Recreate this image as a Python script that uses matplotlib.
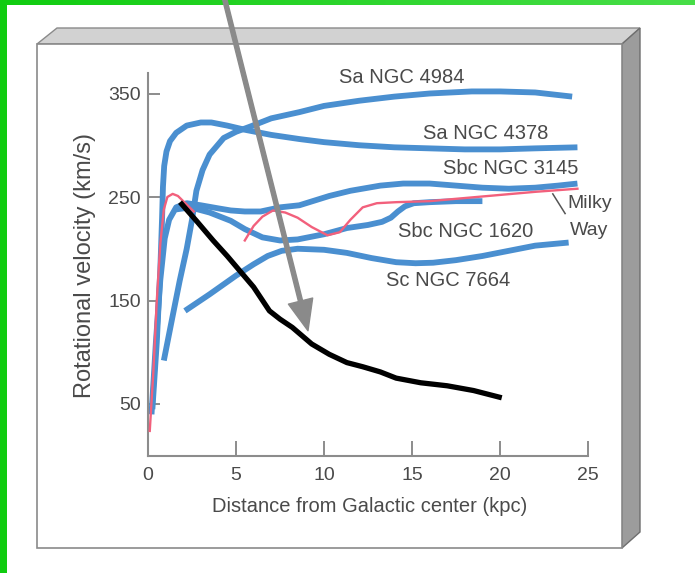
import matplotlib
matplotlib.use("Agg")
import matplotlib.pyplot as plt
from matplotlib.patches import Polygon, Rectangle
from matplotlib.colors import LinearSegmentedColormap
import numpy as np

# ---- data: rotation curves (distance in kpc, velocity in km/s) ----
ngc4984_x = [0.9, 1.4, 1.8, 2.2, 2.5, 2.75, 3.1, 3.5, 4.3, 5.0, 5.8, 7.0, 8.6, 10.0, 12.0, 14.0, 16.0, 18.4, 20.0, 22.0, 24.1]
ngc4984_y = [92, 135, 169, 200, 228, 256, 276, 291, 307, 313, 318, 326, 332, 338, 343, 347, 350, 352, 352, 351, 347]

ngc4378_x = [0.25, 0.5, 0.7, 0.8, 0.85, 0.92, 1.05, 1.25, 1.6, 2.2, 3.0, 3.6, 4.5, 5.5, 7.0, 8.6, 10.0, 12.0, 14.0, 16.0, 18.0, 20.0, 22.0, 24.4]
ngc4378_y = [45, 110, 180, 230, 260, 280, 294, 304, 312, 319, 322, 322, 319, 315, 310, 306, 303, 300, 298, 297, 296, 296, 297, 298]

ngc3145_x = [0.2, 0.45, 0.7, 0.95, 1.2, 1.6, 2.2, 3.0, 4.0, 4.7, 5.5, 6.4, 7.5, 8.6, 10.3, 11.5, 13.2, 14.5, 16.0, 17.5, 19.0, 20.5, 22.0, 23.3, 24.4]
ngc3145_y = [40, 110, 170, 210, 228, 240, 244, 242, 239, 237, 236, 236, 240, 242, 251, 256, 261, 263, 263, 261, 259, 258, 259, 261, 263]

ngc1620_x = [1.6, 2.4, 3.5, 4.7, 5.5, 6.5, 7.5, 8.5, 10.0, 11.3, 12.5, 13.3, 13.8, 14.2, 14.6, 15.1, 16.0, 17.5, 19.0]
ngc1620_y = [238, 240, 235, 227, 219, 211, 208, 209, 214, 220, 223, 226, 230, 236, 241, 244, 245, 246, 246]

ngc7664_x = [2.1, 3.5, 5.0, 6.0, 6.8, 7.6, 8.5, 10.0, 11.3, 12.7, 14.1, 15.2, 16.2, 17.5, 19.0, 20.5, 22.0, 23.9]
ngc7664_y = [140, 156, 174, 185, 193, 198, 200, 199, 196, 191, 187, 186, 186.5, 189, 193, 198, 203, 206]

milky_in_x = [0.1, 0.3, 0.5, 0.7, 0.9, 1.1, 1.4, 1.7, 2.0, 2.6]
milky_in_y = [24, 80, 150, 205, 238, 250, 253, 251, 246, 236]
milky_out_x = [5.5, 6.0, 6.5, 7.1, 7.8, 8.5, 9.3, 10.2, 10.9, 11.5, 12.2, 13.0, 14.1, 16.0, 18.0, 20.0, 22.0, 24.4]
milky_out_y = [208, 222, 231, 237, 235, 230, 221, 213, 216, 228, 240, 244, 245, 246, 249, 252, 255, 258]

kepler_x = [1.82, 2.8, 3.7, 4.5, 5.2, 6.0, 6.9, 7.5, 8.2, 9.3, 10.3, 11.3, 12.2, 13.2, 14.1, 15.5, 17.0, 18.5, 20.1]
kepler_y = [245, 226, 208, 193, 179, 163, 140, 132, 124, 108, 98, 90, 86, 81, 75, 70.5, 67.6, 63, 56]

x_ticks = [0, 5, 10, 15, 20, 25]
y_ticks = [50, 150, 250, 350]

labels = ["Sa NGC 4984", "Sa NGC 4378", "Sbc NGC 3145", "Sbc NGC 1620", "Sc NGC 7664"]
label_x = [14.43, 19.2, 20.6, 18.07, 17.05]
label_y = [365, 311.5, 277.3, 216.7, 169]

# ---- styling ----
W, H = 695, 573
BLUE = "#4a8fd0"
PINK = "#f2607c"
TXT = "#4a4a4a"
AXC = "#8c8c8c"
FONT = "Liberation Sans"
plt.rcParams["font.family"] = FONT

fig = plt.figure(figsize=(W / 100, H / 100), dpi=100)
fig.patch.set_facecolor("white")


def fp(pts):
    return [(x / W, 1 - y / H) for x, y in pts]


# slab-style panel behind the chart
top_face = Polygon(fp([(37, 44), (57, 28), (640, 28), (622, 44)]), closed=True,
                   transform=fig.transFigure, facecolor="#d2d2d2", edgecolor="#8a8a8a", lw=1)
side_face = Polygon(fp([(622, 44), (640, 28), (640, 532), (622, 548)]), closed=True,
                    transform=fig.transFigure, facecolor="#9c9c9c", edgecolor="#6e6e6e", lw=1)
front_face = Polygon(fp([(37, 44), (622, 44), (622, 548), (37, 548)]), closed=True,
                     transform=fig.transFigure, facecolor="white", edgecolor="#8a8a8a", lw=1.2)
for p in (top_face, side_face, front_face):
    p.set_zorder(-10)
    fig.add_artist(p)

# green frame strips
fig.add_artist(Rectangle((0, 0), 7 / W, 1, transform=fig.transFigure,
                         facecolor="#10cc10", edgecolor="none", zorder=-5))
band = fig.add_axes([0, 1 - 5 / H, 1, 5 / H], zorder=-5)
grad = np.linspace(0, 1, 256)[None, :]
gcm = LinearSegmentedColormap.from_list("g", ["#10cc10", "#48de48"])
band.imshow(grad, aspect="auto", cmap=gcm, extent=[0, 1, 0, 1])
band.axis("off")

# ---- chart ----
ax = fig.add_axes([148 / W, 1 - 455.75 / H, 440 / W, (455.75 - 72.8) / H], zorder=2)
ax.set_facecolor("none")
ax.set_xlim(0, 25)
ax.set_ylim(0, 370)

lw_b = 4.2
for xs, ys in [(ngc7664_x, ngc7664_y), (ngc1620_x, ngc1620_y), (ngc3145_x, ngc3145_y),
               (ngc4378_x, ngc4378_y), (ngc4984_x, ngc4984_y)]:
    ax.plot(xs, ys, color=BLUE, lw=lw_b, solid_capstyle="butt", solid_joinstyle="round", zorder=2)

ax.plot(milky_in_x, milky_in_y, color=PINK, lw=1.7, solid_joinstyle="round", zorder=3)
ax.plot(milky_out_x, milky_out_y, color=PINK, lw=1.7, solid_joinstyle="round", zorder=3)
ax.plot(kepler_x, kepler_y, color="black", lw=3.8, solid_capstyle="butt", solid_joinstyle="round", zorder=4)

for s in ("top", "right"):
    ax.spines[s].set_visible(False)
for s in ("left", "bottom"):
    ax.spines[s].set_color(AXC)
    ax.spines[s].set_linewidth(1.5)

ax.set_xticks(x_ticks)
ax.set_xticklabels([str(t) for t in x_ticks])
ax.set_yticks(y_ticks)
ax.set_yticklabels([str(t) for t in y_ticks])
ax.tick_params(axis="x", direction="in", length=11, width=1.4, color=AXC, pad=8,
               labelsize=14, labelcolor=TXT)
ax.tick_params(axis="y", direction="in", length=8.5, width=1.4, color=AXC, pad=5,
               labelsize=14, labelcolor=TXT)

for t, x, y in zip(labels, label_x, label_y):
    ax.text(x, y, t, ha="center", va="center", fontsize=14.5, color=TXT, zorder=6)
ax.text(25.1, 243.5, "Milky", ha="center", va="center", fontsize=14, color=TXT, clip_on=False)
ax.text(25.06, 217.4, "Way", ha="center", va="center", fontsize=14, color=TXT, clip_on=False)
ax.plot([23.0, 23.7], [253, 234], color="#555555", lw=1.1, zorder=5)

fig.text(370 / W, 1 - 507 / H, "Distance from Galactic center (kpc)", ha="center", va="center",
         fontsize=14.5, color=TXT)
fig.text(85 / W, 1 - 265 / H, "Rotational velocity (km/s)", ha="center", va="center",
         rotation=90, fontsize=17, color=TXT)

# pointer arrow from the top edge down to the falling curve
ax.annotate("", xy=(9.09, 120.8), xycoords="data",
            xytext=(222 / W, 1.02), textcoords="figure fraction",
            arrowprops=dict(width=3, headwidth=18, headlength=22, shrink=0,
                            facecolor="#8a8a8a", edgecolor="#8a8a8a"),
            annotation_clip=False, zorder=7)

fig.savefig("out.png", dpi=100, facecolor="white")
